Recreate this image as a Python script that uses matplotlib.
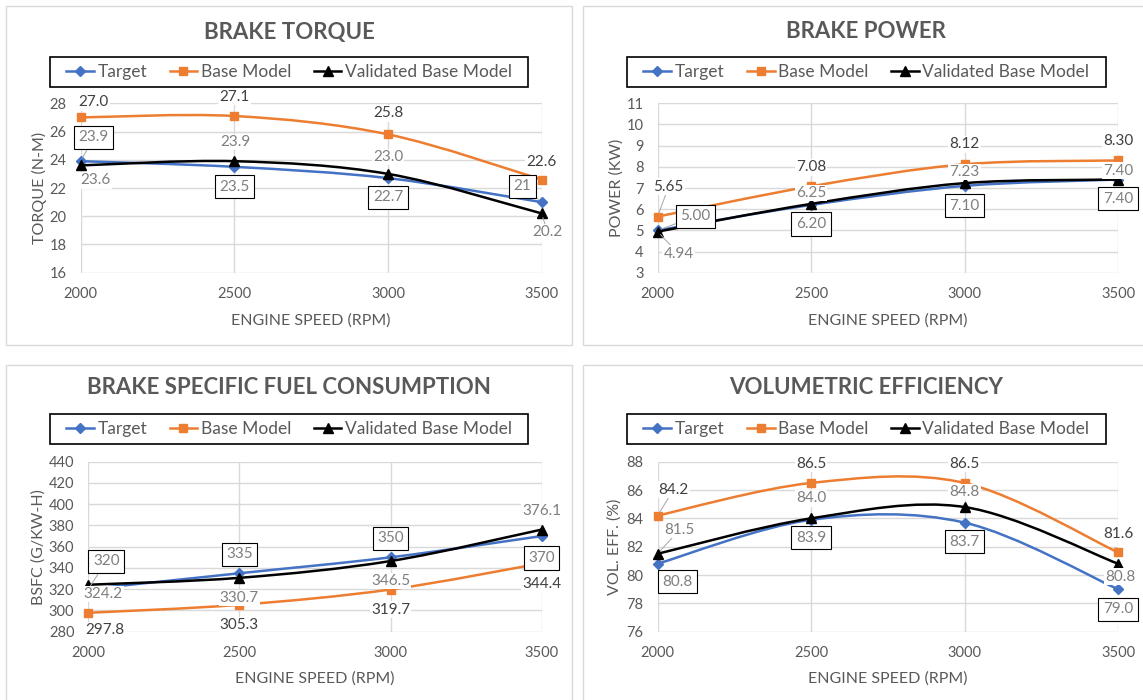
import numpy as np
import matplotlib.pyplot as plt
from matplotlib.path import Path
from matplotlib.patches import PathPatch, Rectangle
from matplotlib.lines import Line2D

plt.rcParams['font.family'] = ['Lato', 'DejaVu Sans']

# ---- data ----
rpm = [2000, 2500, 3000, 3500]
series_names = ['Target', 'Base Model', 'Validated Base Model']

torque_target = [23.9, 23.5, 22.7, 21.0]
torque_base = [27.0, 27.1, 25.8, 22.6]
torque_valid = [23.6, 23.9, 23.0, 20.2]

power_target = [5.00, 6.20, 7.10, 7.40]
power_base = [5.65, 7.08, 8.12, 8.30]
power_valid = [4.94, 6.25, 7.23, 7.40]

bsfc_target = [320, 335, 350, 370]
bsfc_base = [297.8, 305.3, 319.7, 344.4]
bsfc_valid = [324.2, 330.7, 346.5, 376.1]

vol_target = [80.8, 83.9, 83.7, 79.0]
vol_base = [84.2, 86.5, 86.5, 81.6]
vol_valid = [81.5, 84.0, 84.8, 80.8]

titles = ['BRAKE TORQUE', 'BRAKE POWER',
          'BRAKE SPECIFIC FUEL CONSUMPTION', 'VOLUMETRIC EFFICIENCY']
ylabels = ['TORQUE (N-M)', 'POWER (KW)', 'BSFC (G/KW-H)', 'VOL. EFF. (%)']
xlabel = 'ENGINE SPEED (RPM)'
yranges = [(16, 28, 2), (3, 11, 1), (280, 440, 20), (76, 88, 2)]

# ---- styling ----
W, H = 1143, 700
COLORS = ['#4472C4', '#ED7D31', '#000000']
MARKERS = ['D', 's', '^']
MSIZES = [5, 6, 7]
TXT = '#595959'
GRID = '#d9d9d9'

# label formats per panel, per series (target, base, validated)
formats = [['{:g}', '{:.1f}', '{:.1f}'],
           ['{:.2f}', '{:.2f}', '{:.2f}'],
           ['{:g}', '{:.1f}', '{:.1f}'],
           ['{:.1f}', '{:.1f}', '{:.1f}']]

# label offsets in pixels (dx, dy up) and leader flags, per panel / series / point
offsets = [
    [[(13, 24), (0, -20), (0, -19), (-19, 16)],
     [(13, 15), (0, 19), (0, 21), (0, 18)],
     [(15, -15), (1, 19), (0, 17), (6, -19)]],
    [[(38, 14), (0, -19), (0, -20), (0, -19)],
     [(11, 30), (0, 19), (0, 20), (0, 19)],
     [(21, -22), (0, 11), (0, 11), (0, 9)]],
    [[(18, 28), (0, 19), (0, 19), (0, -22)],
     [(17, -17), (0, -20), (0, -20), (0, -21)],
     [(15, -9), (0, -20), (0, -20), (0, 19)]],
    [[(20, -18), (0, -18), (0, -19), (0, -20)],
     [(16, 26), (0, 19), (0, 19), (0, 18)],
     [(22, 24), (0, 20), (0, 15), (2, -13)]],
]
leaders = [
    [[1, 0, 0, 1], [0, 0, 0, 0], [0, 0, 0, 1]],
    [[1, 0, 0, 0], [1, 0, 0, 0], [1, 0, 0, 0]],
    [[1, 0, 0, 0], [0, 0, 0, 0], [0, 0, 0, 0]],
    [[0, 0, 0, 0], [1, 0, 0, 0], [1, 0, 0, 0]],
]

# pixel layout of each panel: frame, plot area, legend box, ylabel x, xlabel y
panels = [
    dict(frame=(6, 6, 572, 345), plot=(80.7, 103.3, 541.6, 272.7),
         legend=(50, 57, 528, 87), title_y=32, ylab_x=47, xlab_y=313),
    dict(frame=(583, 6, 1160, 345), plot=(657.6, 103.3, 1118, 272.7),
         legend=(627, 57, 1105.5, 87), title_y=32, ylab_x=624, xlab_y=313),
    dict(frame=(6, 365, 572, 710), plot=(88.3, 461.7, 541.6, 631.7),
         legend=(50, 414, 528, 444), title_y=387, ylab_x=46, xlab_y=671),
    dict(frame=(583, 365, 1160, 710), plot=(657.6, 461.7, 1118, 631.7),
         legend=(627, 414, 1105.5, 444), title_y=387, ylab_x=622, xlab_y=671),
]


def fx(x):
    return x / W


def fy(y):
    return 1 - y / H


def smooth_path(x, y):
    """Excel-like smoothed line: cubic Bezier through the points."""
    x = np.asarray(x, float)
    y = np.asarray(y, float)
    n = len(x)
    verts = [(x[0], y[0])]
    codes = [Path.MOVETO]
    for i in range(n - 1):
        i0 = max(i - 1, 0)
        i3 = min(i + 2, n - 1)
        c1 = (x[i] + (x[i + 1] - x[i0]) / 6, y[i] + (y[i + 1] - y[i0]) / 6)
        c2 = (x[i + 1] - (x[i3] - x[i]) / 6, y[i + 1] - (y[i3] - y[i]) / 6)
        verts += [c1, c2, (x[i + 1], y[i + 1])]
        codes += [Path.CURVE4] * 3
    return Path(verts, codes)


data = [
    [torque_target, torque_base, torque_valid],
    [power_target, power_base, power_valid],
    [bsfc_target, bsfc_base, bsfc_valid],
    [vol_target, vol_base, vol_valid],
]

fig = plt.figure(figsize=(W / 100, H / 100), dpi=100)
fig.patch.set_facecolor('white')

for p, (lay, series) in enumerate(zip(panels, data)):
    # panel frame
    x0, y0, x1, y1 = lay['frame']
    fig.patches.append(Rectangle((fx(x0), fy(y1)), fx(x1 - x0), (y1 - y0) / H,
                                 transform=fig.transFigure, fill=False,
                                 ec=GRID, lw=1.0, zorder=0))

    px0, py0, px1, py1 = lay['plot']
    ax = fig.add_axes([fx(px0), fy(py1), fx(px1 - px0), (py1 - py0) / H])
    lo, hi, step = yranges[p]
    ax.set_xlim(rpm[0], rpm[-1])
    ax.set_ylim(lo, hi)
    ax.set_xticks(rpm)
    ax.set_yticks(np.arange(lo, hi + step / 2, step))
    ax.grid(True, color=GRID, lw=1.0)
    ax.set_axisbelow(True)
    for s in ax.spines.values():
        s.set_visible(False)
    ax.tick_params(length=0, labelsize=10.5, labelcolor=TXT, pad=10)
    ax.tick_params(axis='y', pad=10)

    ax.set_ylabel(ylabels[p], fontsize=11.5, color=TXT)
    ax.yaxis.set_label_coords(fx(lay['ylab_x']), fy((py0 + py1) / 2),
                              transform=fig.transFigure)
    ax.set_xlabel(xlabel, fontsize=11.5, color=TXT)
    ax.xaxis.set_label_coords(fx((px0 + px1) / 2), fy(lay['xlab_y']),
                              transform=fig.transFigure)

    # lines + markers
    for k, vals in enumerate(series):
        ax.add_patch(PathPatch(smooth_path(rpm, vals), fill=False,
                               ec=COLORS[k], lw=1.8, zorder=3 + k,
                               clip_on=False))
        ax.plot(rpm, vals, ls='none', marker=MARKERS[k], ms=MSIZES[k],
                color=COLORS[k], zorder=3 + k, clip_on=False)

    # data labels
    for k, vals in enumerate(series):
        for i, v in enumerate(vals):
            dx, dy = offsets[p][k][i]
            txt = formats[p][k].format(v)
            if k == 0:
                box = dict(boxstyle='square,pad=0.3', fc='white', ec='black', lw=0.8)
                col = '#7f7f7f'
            else:
                box = dict(boxstyle='square,pad=0.08', fc='white', ec='none')
                col = '#404040' if k == 1 else '#7f7f7f'
            arrow = None
            if leaders[p][k][i]:
                arrow = dict(arrowstyle='-', color='#a6a6a6', lw=0.7,
                             shrinkA=0, shrinkB=3)
            ax.annotate(txt, (rpm[i], v), xytext=(dx, dy),
                        textcoords='offset pixels', ha='center', va='center',
                        fontsize=11, color=col, bbox=box, arrowprops=arrow,
                        zorder=8, annotation_clip=False)

    # title
    lx0, ly0, lx1, ly1 = lay['legend']
    fig.text(fx((lx0 + lx1) / 2), fy(lay['title_y']), titles[p],
             ha='center', va='center', fontsize=16, fontweight='bold', color=TXT)

    # legend box
    fig.patches.append(Rectangle((fx(lx0), fy(ly1)), fx(lx1 - lx0), (ly1 - ly0) / H,
                                 transform=fig.transFigure, fill=False,
                                 ec='black', lw=1.2, zorder=1))
    handles = [Line2D([], [], color=COLORS[k], marker=MARKERS[k],
                      ms=MSIZES[k], lw=1.8) for k in range(3)]
    fig.legend(handles, series_names, loc='center',
               bbox_to_anchor=(fx((lx0 + lx1) / 2), fy((ly0 + ly1) / 2)),
               ncol=3, frameon=False, fontsize=12.5, handlelength=1.6,
               handletextpad=0.2, columnspacing=1.3, labelcolor=TXT,
               borderpad=0)

fig.savefig('out.png', dpi=100, facecolor='white')
